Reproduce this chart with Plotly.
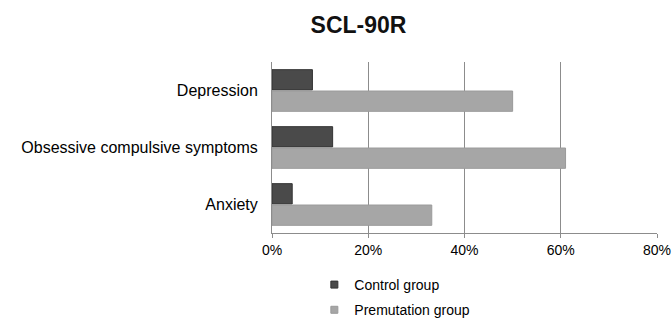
import plotly.graph_objects as go

categories = ["Depression", "Obsessive compulsive symptoms", "Anxiety"]
control = [0.084, 0.126, 0.042]
premutation = [0.50, 0.61, 0.332]
tick_vals = [0, 0.2, 0.4, 0.6, 0.8]
tick_text = ["0%", "20%", "40%", "60%", "80%"]

fig = go.Figure()
fig.add_trace(go.Bar(
    y=categories, x=control, orientation="h", name="Control group",
    marker=dict(color="#4a4a4a", line=dict(color="#333333", width=1)),
    showlegend=False,
))
fig.add_trace(go.Bar(
    y=categories, x=premutation, orientation="h", name="Premutation group",
    marker=dict(color="#a6a6a6", line=dict(color="#9a9a9a", width=1)),
    showlegend=False,
))
# legend entries with small square swatches
fig.add_trace(go.Scatter(
    x=[None], y=[None], mode="markers", name="Control group",
    marker=dict(symbol="square", size=7, color="#4a4a4a", line=dict(color="#333333", width=1)),
    legendgroup="a",
))
fig.add_trace(go.Scatter(
    x=[None], y=[None], mode="markers", name="Premutation group",
    marker=dict(symbol="square", size=7, color="#a6a6a6", line=dict(color="#9a9a9a", width=1)),
    legendgroup="b",
))

fig.update_layout(
    width=672, height=318,
    margin=dict(l=272, r=15, t=62, b=85, autoexpand=False),
    paper_bgcolor="white", plot_bgcolor="white",
    font=dict(family="Liberation Sans, Arial, sans-serif", color="#000000", size=14),
    title=dict(text="<b>SCL-90R</b>", x=0.5335, xref="container", xanchor="center",
               y=1 - 25.0 / 318, yref="container", yanchor="middle",
               font=dict(size=23, color="#111111")),
    barmode="group", bargap=0.25, bargroupgap=0.05,
    showlegend=True,
    legend=dict(x=0.11, xanchor="left", y=-0.2105, yanchor="top", orientation="v",
                font=dict(size=14), tracegroupgap=4, bgcolor="rgba(0,0,0,0)"),
    xaxis=dict(range=[0, 0.8], tickvals=tick_vals, ticktext=tick_text,
               showgrid=True, gridcolor="#8c8c8c", gridwidth=1,
               showline=True, linecolor="#8c8c8c", linewidth=1,
               ticks="outside", ticklen=4, tickcolor="#8c8c8c",
               zeroline=False, tickfont=dict(size=14)),
    yaxis=dict(autorange="reversed", showline=True, linecolor="#8c8c8c", linewidth=1,
               ticks="", tickfont=dict(size=16), ticklabelstandoff=10),
)

fig.write_html("out.html", config={"displayModeBar": False},
               post_script="document.body.style.margin='0px';")
